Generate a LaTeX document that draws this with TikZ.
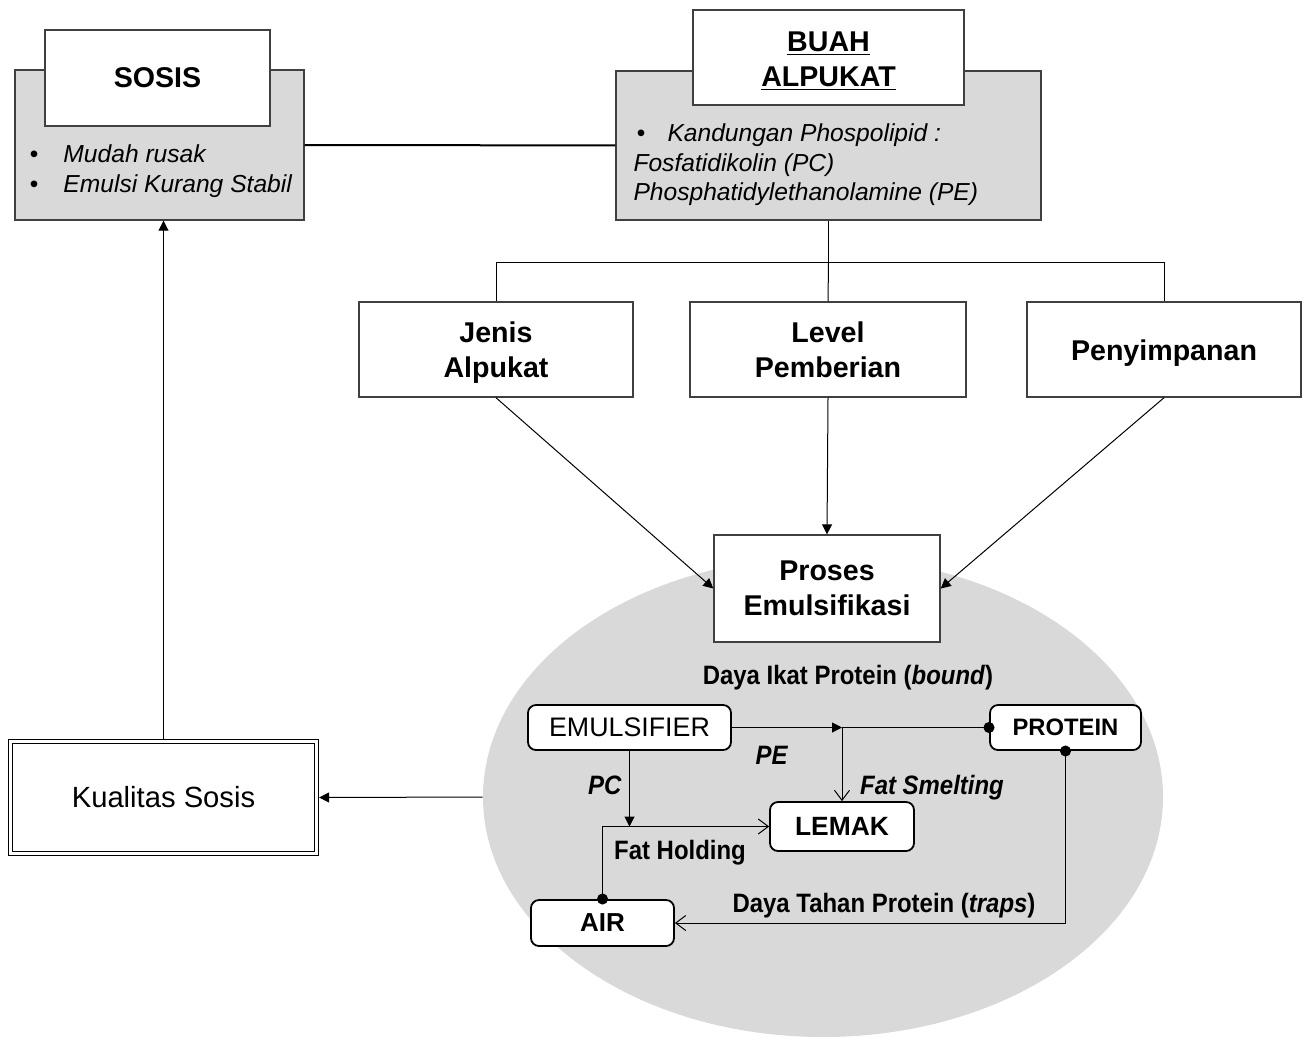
\documentclass[tikz,border=0pt]{standalone}
\usepackage{fontspec}
\setmainfont{Liberation Sans}
\newfontfamily\narrowfont[FakeStretch=0.9]{Liberation Sans}
\usetikzlibrary{arrows.meta,shapes.geometric}
\definecolor{panel}{RGB}{217,217,217}
\definecolor{rim}{RGB}{64,64,64}
\newcommand\padtop{\rule{0pt}{13.5pt}}
\tikzset{
    box/.style={rectangle,draw=rim,line width=0.7pt,fill=white,align=center,inner sep=0pt},
    greybox/.style={rectangle,draw=rim,line width=0.7pt,fill=panel,inner sep=0pt},
    hdr/.style={font=\fontsize{14.3}{17.5}\selectfont\bfseries},
    ket/.style={font=\fontsize{12.3}{14.8}\selectfont\itshape,align=left,inner sep=0pt,anchor=west},
    pill/.style={rectangle,rounded corners=4pt,draw=black,line width=0.9pt,fill=white,inner sep=0pt},
    lbl/.style={font=\narrowfont\fontsize{13.3}{15}\selectfont\bfseries,inner sep=0pt},
    tri/.style={-{Triangle[length=5pt,width=5pt]}},
    barb/.style={-{Straight Barb[length=5pt,width=7.5pt]}},
    dot/.style={{Circle[length=5.5pt]}-{Straight Barb[length=5pt,width=7.5pt]},shorten <=-2.7pt},
}
\begin{document}
\begin{tikzpicture}[x=0.5pt,y=-0.5pt,line width=0.5pt]
    \useasboundingbox (0,0) rectangle (1310,1040);
    \node[ellipse,fill=panel,minimum width=340pt,minimum height=240pt,inner sep=0pt] (elips) at (823,797) {};

    \node[greybox,minimum width=144.5pt,minimum height=75pt] (sosisbg) at (159.5,145) {};
    \node[greybox,minimum width=212.5pt,minimum height=74.5pt] (alpbg) at (828.5,145.5) {};
    \node[box,hdr,minimum width=112.5pt,minimum height=48pt] (sosis) at (157.5,78) {SOSIS};
    \node[box,hdr,minimum width=135.5pt,minimum height=47.5pt] (alpukat) at (828.5,57.5) {\padtop\underline{BUAH}\\\underline{ALPUKAT}};
    \node[ket] (sosisket) at (29,171) {\makebox[17pt][l]{•}Mudah rusak\\\makebox[17pt][l]{•}Emulsi Kurang Stabil};
    \node[ket] (alpket) at (633,165) {\makebox[17pt][l]{\hspace{1.5pt}•}Kandungan Phospolipid :\\Fosfatidikolin (PC)\\Phosphatidylethanolamine (PE)};

    \begin{scope}[every node/.style={box,hdr,minimum height=47.5pt}]
        \node[minimum width=137pt] (jenis)   at (496,349.5)  {\padtop Jenis\\Alpukat};
        \node[minimum width=138pt] (level)   at (828,349.5)  {Level\\Pemberian};
        \node[minimum width=137pt] (simpan)  at (1164,349.5) {\padtop Penyimpanan};
        \node[minimum width=113pt,minimum height=53.5pt] (proses) at (827,588.5) {Proses\\Emulsifikasi};
    \end{scope}

    \node[box,double=white,double distance=1.4pt,line width=0.6pt,draw=black,minimum width=153pt,minimum height=56pt,
          font=\fontsize{14.6}{17}\selectfont] (kualitas) at (163.5,797.5) {Kualitas Sosis};

    \node[pill,minimum width=101.5pt,minimum height=22.5pt,font=\fontsize{13.4}{15}\selectfont] (emul) at (629.5,727.5) {EMULSIFIER};
    \node[pill,minimum width=75.5pt,minimum height=22.5pt,font=\fontsize{11.9}{14}\selectfont\bfseries] (prot) at (1065.5,727.5) {PROTEIN};
    \node[pill,minimum width=72pt,minimum height=24.5pt,font=\fontsize{13.2}{15}\selectfont\bfseries] (lemak) at (842,826.5) {LEMAK};
    \node[pill,minimum width=71.5pt,minimum height=23pt,font=\fontsize{13}{15}\selectfont\bfseries] (air) at (602.5,923) {AIR};

    \node[lbl] (bound) at (848,678) {Daya Ikat Protein (\textit{bound})};
    \node[lbl] (pe)    at (772,755) {\textit{PE}};
    \node[lbl] (pc)    at (605,785) {\textit{PC}};
    \node[lbl] (smelt) at (932,788) {\textit{Fat Smelting}};
    \node[lbl] (hold)  at (680,853) {Fat Holding};
    \node[lbl] (traps) at (884,906) {Daya Tahan Protein (\textit{traps})};

    \coordinate (bus) at (alpbg.south |- 0,262);
    \coordinate (m1) at (lemak.north |- emul.east);

    \draw[line width=1pt] (sosisbg) -- (alpbg);
    \draw (alpbg.south) -- (bus);
    \draw (jenis.north) |- (bus) -| (simpan.north);
    \draw (bus) -- (level.north);

    \begin{scope}[every edge/.style={draw,tri}]
        \path
            (jenis.south) edge (proses.west)
            (level.south) edge (proses.north)
            (simpan.south) edge (proses.east)
            (elips.west) edge[shorten >=1pt] (kualitas.east)
            (kualitas.north) edge[shorten <=1pt] (kualitas.north |- sosisbg.south)
            (emul.east) edge (m1)
            (emul.south) edge (emul.south |- lemak.west);
    \end{scope}

    \draw[-{Circle[length=5.5pt]},shorten >=-2.7pt] (m1) -- (prot.west);
    \draw[barb] (m1) -- (lemak.north);
    \draw[dot] (air.north) |- (lemak.west);
    \draw[dot] (prot.south) |- (air.east);
\end{tikzpicture}
\end{document}
